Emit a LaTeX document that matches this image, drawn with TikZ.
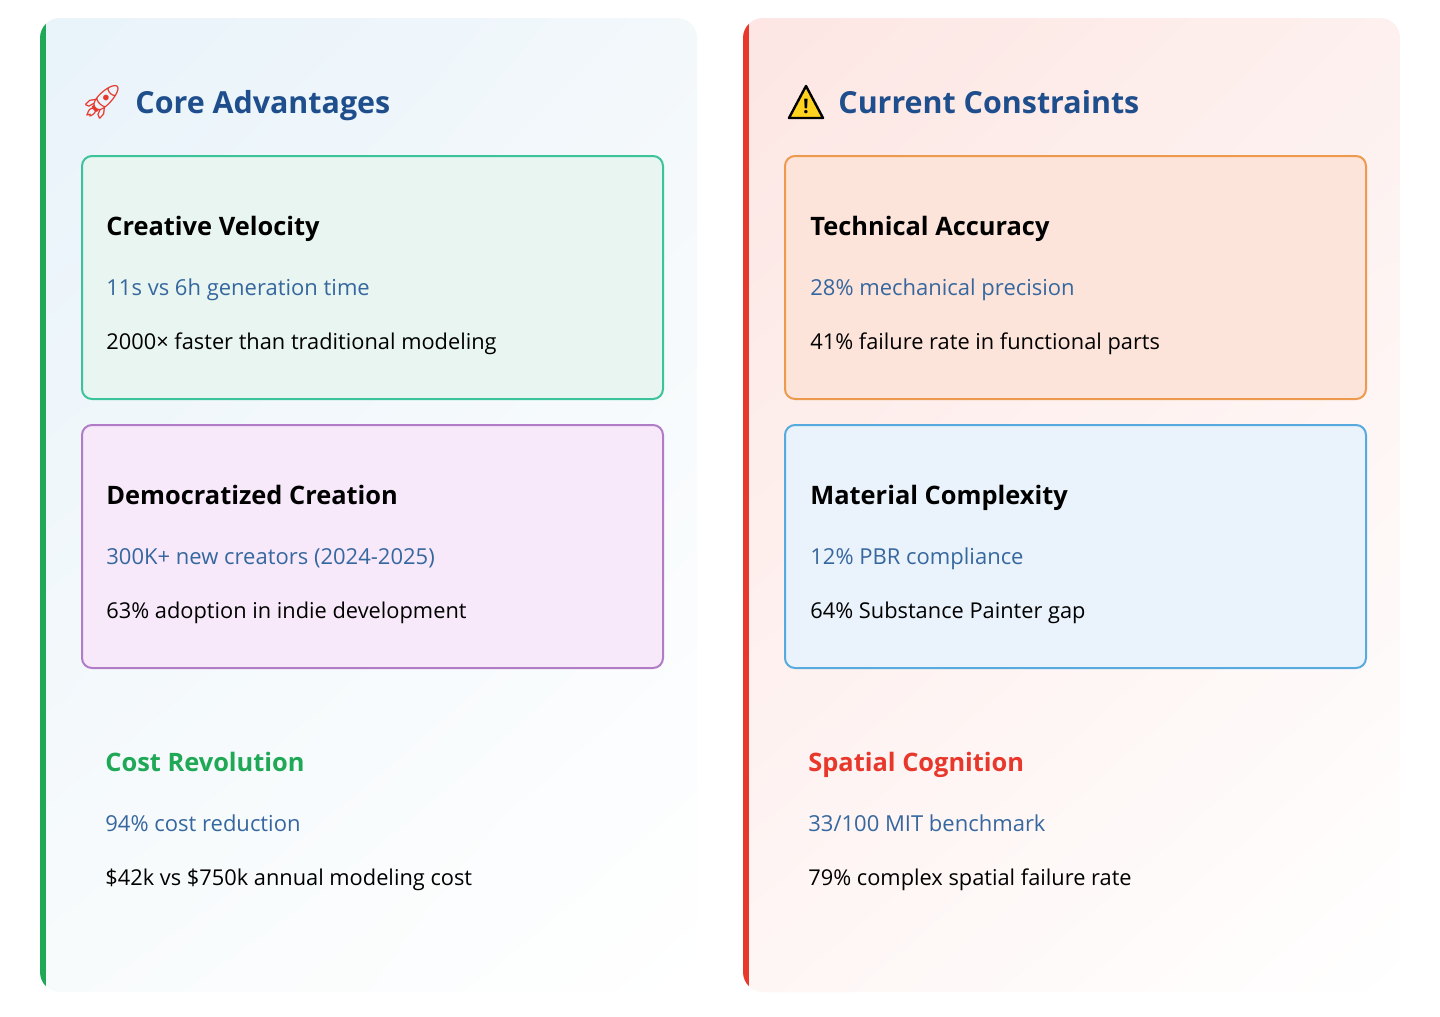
\documentclass[tikz,border=0pt]{standalone}
\usepackage{fontspec}
\setmainfont{Open Sans}
\newfontfamily\emo{Noto Emoji}
\usetikzlibrary{shadings}
\definecolor{ttl}{HTML}{1F4E8C}
\definecolor{sub}{HTML}{36679E}
\definecolor{grn}{HTML}{1FA855}
\definecolor{rd}{HTML}{E8382C}
\definecolor{lA}{HTML}{E8F3FA}\definecolor{lB}{HTML}{F3F8FB}\definecolor{lC}{HTML}{F8FBFC}
\definecolor{rA}{HTML}{FDE6E3}\definecolor{rB}{HTML}{FDF0EE}\definecolor{rC}{HTML}{FEF6F5}
\definecolor{yel}{HTML}{FFD21F}
\definecolor{c1d}{HTML}{3CC39A}\definecolor{c1f}{HTML}{E8F5F1}
\definecolor{c2d}{HTML}{B07CC6}\definecolor{c2f}{HTML}{F7E9FA}
\definecolor{c3d}{HTML}{EE9A4E}\definecolor{c3f}{HTML}{FDE4DA}
\definecolor{c4d}{HTML}{56AADD}\definecolor{c4f}{HTML}{EAF3FB}
\tikzset{
 x=0.5pt,y=-0.5pt,
 ptitle/.style={anchor=base west,font=\fontsize{15.2}{18}\selectfont\bfseries,text=ttl,inner sep=0},
 head/.style={anchor=base west,font=\fontsize{12.7}{16}\selectfont\bfseries,inner sep=0},
 subt/.style={anchor=base west,font=\fontsize{11}{14}\selectfont,text=sub,inner sep=0},
 body/.style={anchor=base west,font=\fontsize{10.9}{14}\selectfont,inner sep=0},
 card/.style={draw,line width=1pt,rounded corners=5pt,minimum width=290.5pt,minimum height=121.5pt,anchor=north west},
}
\begin{document}
\begin{tikzpicture}
\useasboundingbox (0,0) rectangle (1440,1017);
\fill[white] (0,0) rectangle (1440,1017);
\begin{scope}
\clip[rounded corners=10pt] (40,18) rectangle (697,992);
\shade[upper left=lA,upper right=lB,lower left=lC,lower right=white] (40,18) rectangle (697,992);
\fill[grn] (40,18) rectangle (46,992);
\end{scope}
\begin{scope}
\clip[rounded corners=10pt] (743,18) rectangle (1400,992);
\shade[upper left=rA,upper right=rB,lower left=rC,lower right=white] (743,18) rectangle (1400,992);
\fill[rd] (743,18) rectangle (749,992);
\end{scope}
\node[anchor=center,font=\emo\fontsize{17}{18}\selectfont,text=rd] (i1) at (102,102) {🚀};
\node[ptitle] (t1) at (135,113) {Core Advantages};
\draw[fill=yel,line width=1.2pt,line join=round] (806,86)--(823,118)--(789,118)--cycle;
\node[font=\fontsize{10}{10}\selectfont\bfseries,inner sep=0] (i2) at (806,106) {!};
\node[ptitle] (t2) at (838,113) {Current Constraints};
\node[card,draw=c1d,fill=c1f] (c1) at (81,155) {};
\node[card,draw=c2d,fill=c2f] (c2) at (81,424) {};
\node[card,draw=c3d,fill=c3f] (c3) at (784,155) {};
\node[card,draw=c4d,fill=c4f] (c4) at (784,424) {};
\node[head] (h1) at (106,235) {Creative Velocity};
\node[subt] (s1) at (106,295) {11s vs 6h generation time};
\node[body] (b1) at (106,349) {2000× faster than traditional modeling};
\node[head] (h2) at (106,504) {Democratized Creation};
\node[subt] (s2) at (106,564) {300K+ new creators (2024-2025)};
\node[body] (b2) at (106,618) {63\% adoption in indie development};
\node[head,text=grn] (h3) at (105,771) {Cost Revolution};
\node[subt] (s3) at (105,831) {94\% cost reduction};
\node[body] (b3) at (105,885) {\$42k vs \$750k annual modeling cost};
\node[head] (h4) at (810,235) {Technical Accuracy};
\node[subt] (s4) at (810,295) {28\% mechanical precision};
\node[body] (b4) at (810,349) {41\% failure rate in functional parts};
\node[head] (h5) at (810,504) {Material Complexity};
\node[subt] (s5) at (810,564) {12\% PBR compliance};
\node[body] (b5) at (810,618) {64\% Substance Painter gap};
\node[head,text=rd] (h6) at (808,771) {Spatial Cognition};
\node[subt] (s6) at (808,831) {33/100 MIT benchmark};
\node[body] (b6) at (808,885) {79\% complex spatial failure rate};
\end{tikzpicture}
\end{document}
